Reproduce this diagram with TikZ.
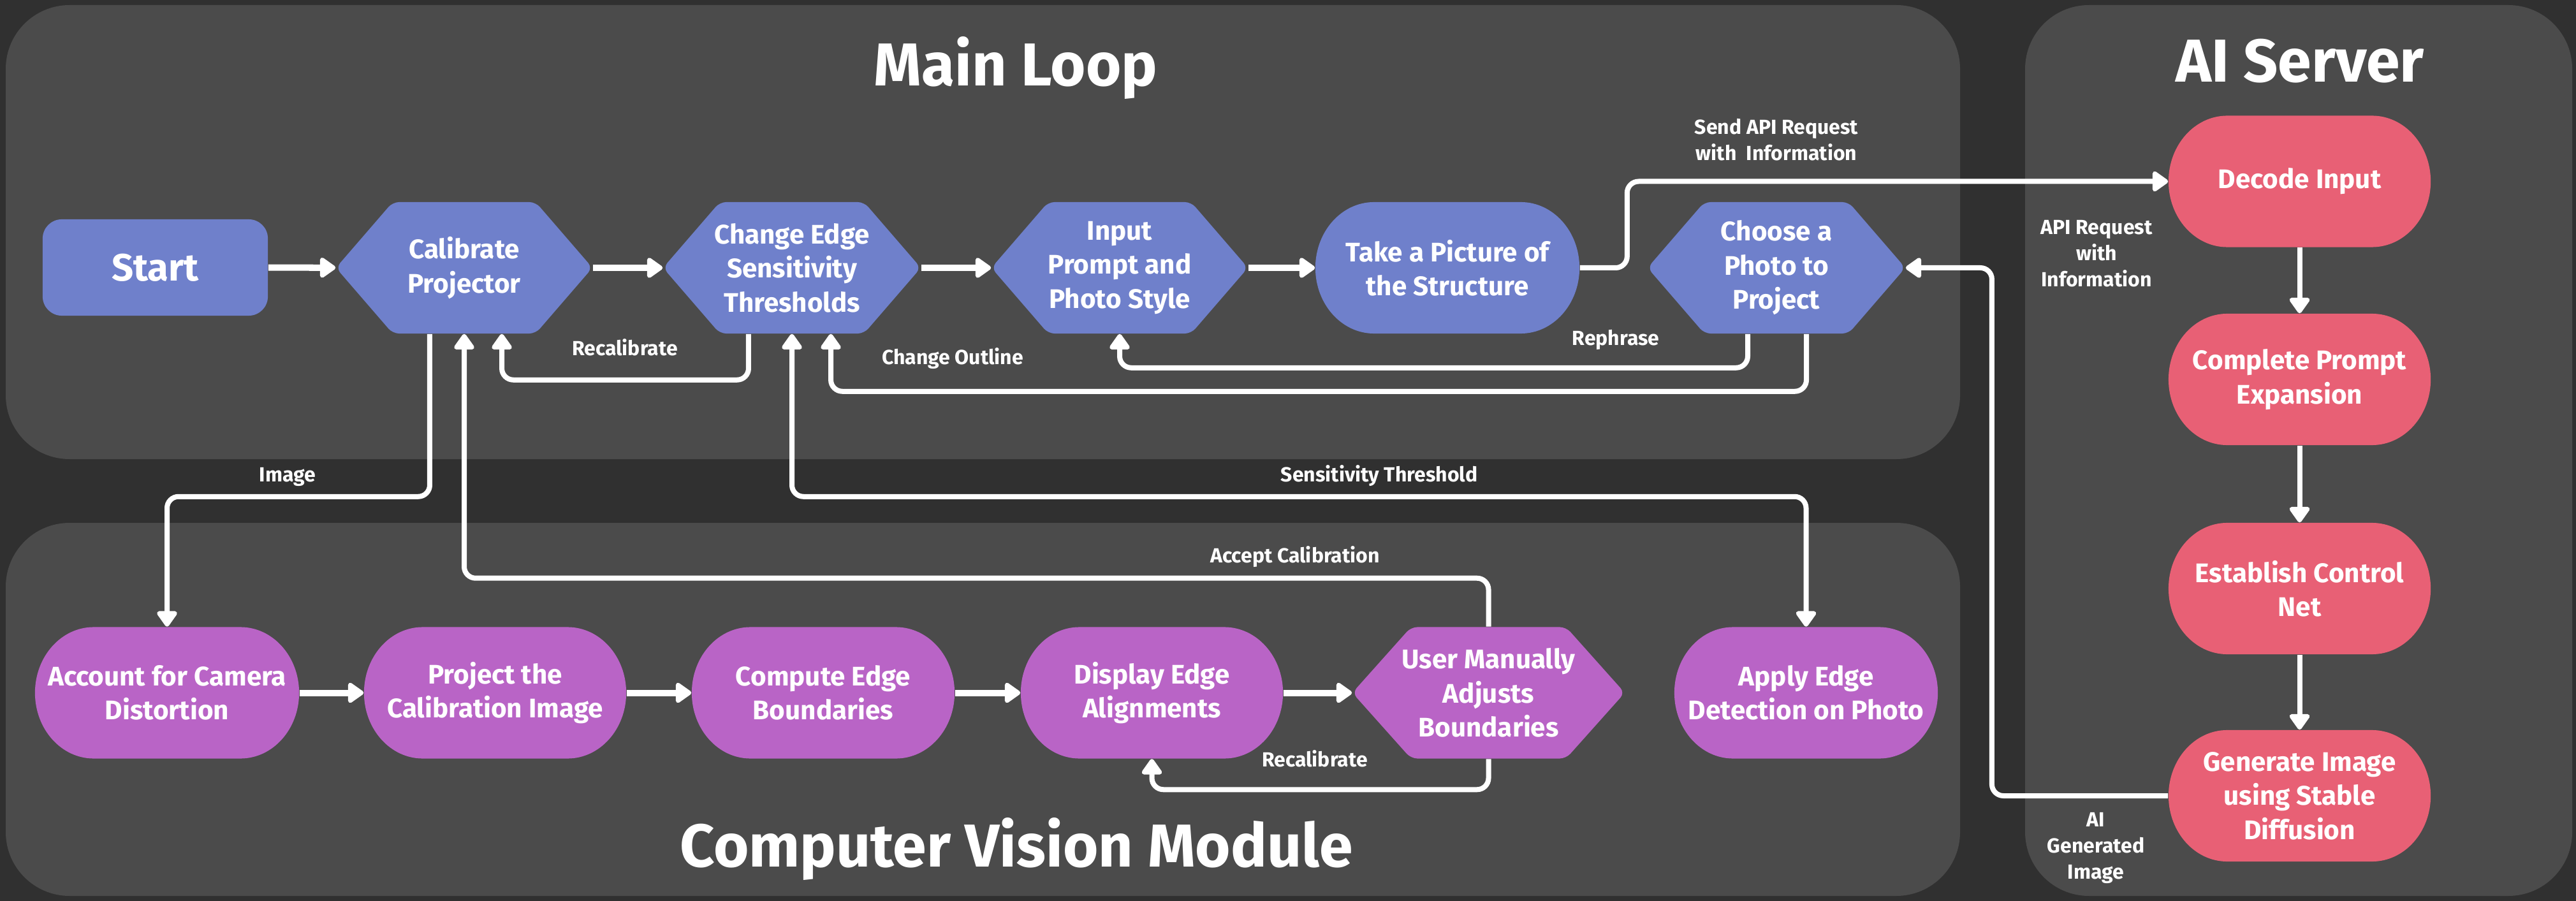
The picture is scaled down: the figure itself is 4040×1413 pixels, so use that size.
\documentclass[tikz,border=0pt]{standalone}
\usepackage{fontspec}
\setmainfont{Fira Sans}
\usetikzlibrary{arrows.meta}
\definecolor{bgc}{HTML}{303030}
\definecolor{panelc}{HTML}{4B4B4B}
\definecolor{bluec}{HTML}{6F80CB}
\definecolor{purpc}{HTML}{B964C6}
\definecolor{pinkc}{HTML}{E86075}
\newcommand{\nodefont}{\fontsize{12pt}{15.2pt}\selectfont\bfseries}
\newcommand{\labfont}{\fontsize{9.1pt}{11.7pt}\selectfont\bfseries}
\newcommand{\titfont}{\fontsize{27pt}{31pt}\selectfont\bfseries}
\tikzset{
  ntext/.style={text=white, align=center, font=\nodefont, inner sep=0pt},
  stad/.style n args={2}{rectangle, minimum width=#1, minimum height=2.06cm, ntext,
    path picture={\fill[#2] ([xshift=0.92cm]path picture bounding box.north west)
      -- ([xshift=-0.92cm]path picture bounding box.north east)
      arc[start angle=90,end angle=-90,x radius=0.92cm,y radius=1.03cm]
      -- ([xshift=0.92cm]path picture bounding box.south west)
      arc[start angle=270,end angle=90,x radius=0.92cm,y radius=1.03cm] -- cycle;}},
  hexn/.style n args={3}{rectangle, minimum width=#1, minimum height=2.06cm, ntext,
    path picture={\fill[#3, rounded corners=0.1cm] (path picture bounding box.north)
      -- ([xshift=-#2]path picture bounding box.north east)
      -- (path picture bounding box.east)
      -- ([xshift=-#2]path picture bounding box.south east)
      -- ([xshift=#2]path picture bounding box.south west)
      -- (path picture bounding box.west)
      -- ([xshift=#2]path picture bounding box.north west) -- cycle;}},
  startbox/.style={rectangle, rounded corners=0.3cm, fill=bluec, minimum width=3.53cm,
    minimum height=1.51cm, text=white, font=\fontsize{17pt}{20pt}\selectfont\bfseries},
  lab/.style={text=white, align=center, font=\labfont, inner sep=0pt},
  titl/.style={text=white, font=\titfont, inner sep=0pt},
  panel/.style={fill=panelc, rounded corners=1cm},
  tipp/.tip={Triangle[length=0.27cm,width=0.36cm,round]},
  conn/.style={draw=white, line width=0.08cm, rounded corners=0.18cm, -tipp},
  dconn/.style={draw=white, line width=0.08cm, rounded corners=0.18cm, tipp-tipp},
  flow/.style={draw=white, line width=0.1cm, -tipp},
}
\begin{document}
\begin{tikzpicture}[x=0.01cm,y=-0.01cm]
\useasboundingbox (0,0) rectangle (4040,1413);
\fill[bgc] (0,0) rectangle (4040,1413);
% panels
\fill[panel] (9,8) rectangle (3074,720);
\fill[panel] (9,820) rectangle (3074,1405);
\fill[panel] (3176,8) rectangle (4034,1405);
% titles
\node[titl, anchor=base] (tmain) at (1593,135) {Main Loop};
\node[titl, anchor=base] (tai) at (3607,129) {AI Server};
\node[titl, anchor=base] (tcv) at (1594,1359) {Computer Vision Module};
% main loop nodes
\node[startbox] (start) at (243.5,419.5) {Start};
\node[hexn={4.02cm}{0.89cm}{bluec}] (calib) at (728,420) {Calibrate\\Projector};
\node[hexn={4.04cm}{0.89cm}{bluec}] (chg) at (1242,420) {Change Edge\\Sensitivity\\Thresholds};
\node[hexn={4.02cm}{0.89cm}{bluec}] (inp) at (1756,420) {Input\\Prompt and\\Photo Style};
\node[stad={4.14cm}{bluec}] (pic) at (2270,420) {Take a Picture of\\the Structure};
\node[hexn={4.04cm}{0.89cm}{bluec}] (choose) at (2786,420) {Choose a\\Photo to\\Project};
% AI server nodes
\node[stad={4.11cm}{pinkc}] (dec) at (3606.5,284.5) {Decode Input};
\node[stad={4.11cm}{pinkc}] (cpe) at (3606.5,595) {Complete Prompt\\Expansion};
\node[stad={4.11cm}{pinkc}] (ecn) at (3606.5,923) {Establish Control\\Net};
\node[stad={4.11cm}{pinkc}] (gen) at (3606.5,1248) {Generate Image\\using Stable\\Diffusion};
% CV nodes
\node[stad={4.14cm}{purpc}] (acc) at (262,1086.5) {Account for Camera\\Distortion};
\node[stad={4.11cm}{purpc}] (proj) at (776.5,1086.5) {Project the\\Calibration Image};
\node[stad={4.12cm}{purpc}] (comp) at (1291,1086.5) {Compute Edge\\Boundaries};
\node[stad={4.11cm}{purpc}] (disp) at (1806.5,1086.5) {Display Edge\\Alignments};
\node[hexn={4.27cm}{0.92cm}{purpc}] (user) at (2334.5,1086.5) {User Manually\\Adjusts\\Boundaries};
\node[stad={4.13cm}{purpc}] (apply) at (2832.5,1086.5) {Apply Edge\\Detection on Photo};
% main row flow
\draw[flow] (start) -- (calib);
\draw[flow] (calib) -- (chg);
\draw[flow] (chg) -- (inp);
\draw[flow] (inp) -- (pic);
% CV row flow
\draw[flow] (acc) -- (proj);
\draw[flow] (proj) -- (comp);
\draw[flow] (comp) -- (disp);
\draw[flow] (disp) -- (user);
% AI flow
\draw[conn] (dec) -- (cpe);
\draw[conn] (cpe) -- (ecn);
\draw[conn] (ecn) -- (gen);
% loops
\draw[conn] (pic.east) -- ++(74,0) |- (dec.west);
\draw[conn] ([xshift=-0.45cm]choose.south) -- ++(0,53) -| (inp.south);
\draw[conn] ([xshift=0.47cm]choose.south) -- ++(0,90) -| ([xshift=0.61cm]chg.south);
\draw[conn] ([xshift=-0.68cm]chg.south) -- ++(0,72) -| ([xshift=0.59cm]calib.south);
\draw[conn] ([xshift=-0.54cm]calib.south) -- ++(0,255) -| (acc.north);
\draw[conn] (user.north) -- ++(0,-76) -| (calib.south);
\draw[dconn] (chg.south) -- ++(0,255) -| (apply.north);
\draw[conn] (user.south) -- ++(0,48) -| (disp.south);
\draw[conn] (gen.west) -| ([xshift=1.35cm]choose.east) -- (choose.east);
% labels
\node[lab, anchor=base] (lrecal) at (980,558) {Recalibrate};
\node[lab, anchor=base] (lout) at (1494,572) {Change Outline};
\node[lab, anchor=base] (lreph) at (2534,542) {Rephrase};
\node[lab] (lsend) at (2786,219) {Send API Request\\with\ \ Information};
\node[lab] (lapi) at (3288,398) {API Request\\with\\Information};
\node[lab, anchor=base] (limg) at (451,755) {Image};
\node[lab, anchor=base] (lsens) at (2163,755) {Sensitivity Threshold};
\node[lab, anchor=base] (lacc) at (2031,882) {Accept Calibration};
\node[lab, anchor=base] (lrecal2) at (2062,1202) {Recalibrate};
\node[lab] (lai) at (3287,1330) {AI\\Generated\\Image};
\end{tikzpicture}
\end{document}
